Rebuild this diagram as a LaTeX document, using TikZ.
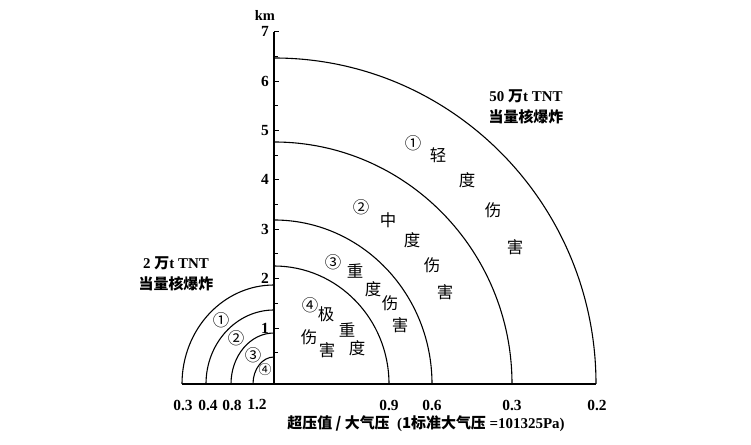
\documentclass[tikz,border=0pt]{standalone}
\usepackage{fontspec}
\setmainfont{Liberation Serif}
\newfontfamily\cjk{Noto Sans CJK SC}
\usetikzlibrary{positioning}
\tikzset{%
  zone/.style={line width=1.1pt},
  tick/.style={line width=0.9pt}%
}

\begin{document}
\begin{tikzpicture}[
    x=1bp, y=1bp,
    lab/.style={
        font=\cjk\fontsize{16.5}{18}\selectfont,
        inner sep=0pt
    },
    num/.style={
        font=\bfseries\fontsize{15.5}{17}\selectfont,
        inner sep=0pt
    },
    title/.style={
        font=\bfseries\fontsize{15}{21}\selectfont,
        align=center,
        inner sep=0pt
    }
]
\useasboundingbox (-274,-61) rectangle (477,384);
\def\kmu{49.4}
\def\kmo{6.6}

% Axis and base line
\coordinate (o) at (0,0);
\coordinate (top) at (0,7*\kmu+\kmo);
\coordinate (left) at (-92,0);
\coordinate (right) at (322,0);
\draw[zone] (o) -- (top);
\draw[zone] (left) -- (right);
\foreach \k in {1,...,7}
  \draw[tick] (0,\k*\kmu+\kmo) -- ++(5,0);
\foreach \k in {0.5,1.5,...,6.5}
  \draw[tick] (0,\k*\kmu+\kmo) -- ++(3.5,0);
\foreach \k in {1,...,7}
  \node[num, anchor=east] (y\k) at (-5,\k*\kmu+\kmo) {\k};
\node[num, font=\bfseries\fontsize{14.5}{16}\selectfont] (km) at (-9,369) {km};

% Right: 50 万t TNT
\draw[zone] (115,0) arc[start angle=0, end angle=90, x radius=115, y radius=118];
\draw[zone] (158,0) arc[start angle=0, end angle=90, x radius=158, y radius=164];
\draw[zone] (238,0) arc[start angle=0, end angle=90, x radius=238, y radius=242];
\draw[zone] (322,0) arc[start angle=0, end angle=90, x radius=322, y radius=326];

% Left: 2 万t TNT
\draw[zone] (-92,0) arc[start angle=180, end angle=90, x radius=92, y radius=99];
\draw[zone] (-68,0) arc[start angle=180, end angle=90, x radius=68, y radius=74];
\draw[zone] (-43,0) arc[start angle=180, end angle=90, x radius=43, y radius=51];
\draw[zone] (-21,0) arc[start angle=180, end angle=90, x radius=21, y radius=27];

% Overpressure values
\foreach \v/\x [count=\i] in {0.3/-91,0.4/-66,0.8/-42,1.2/-17,0.9/115,0.6/158,0.3/238,0.2/323}
  \node[num] (p\i) at (\x,-21) {\v};

% Zone labels
\foreach \t/\x/\y [count=\i] in {
    ①/-53/64, ②/-38/46, ③/-21/29,
    ①/139/241, 轻/164/229, 度/193/204, 伤/219/174, 害/241/137,
    ②/87/177, 中/114/164, 度/138/144, 伤/158/119, 害/171/92,
    ③/59/122, 重/81/113, 度/99/95, 伤/116/81, 害/126/59,
    ④/36/79, 极/52/70, 重/73/54, 伤/35/47, 害/53/34, 度/83/36}
  \node[lab] (z\i) at (\x,\y) {\t};
\node[lab, font=\cjk\fontsize{13}{13}\selectfont] (z0) at (-9,14) {④};

% Yield notes
\node[title] (big) at (252,277) {50 {\cjk 万}t TNT\\{\cjk 当量核爆炸}};
\node[title] (small) at (-98,110) {2 {\cjk 万}t TNT\\{\cjk 当量核爆炸}};

% Axis title
\node[title] (xlab) at (152,-40) {{\cjk 超压值 / 大气压}\ \ ({\cjk 1标准大气压} =101325Pa)};

\end{tikzpicture}
\end{document}
